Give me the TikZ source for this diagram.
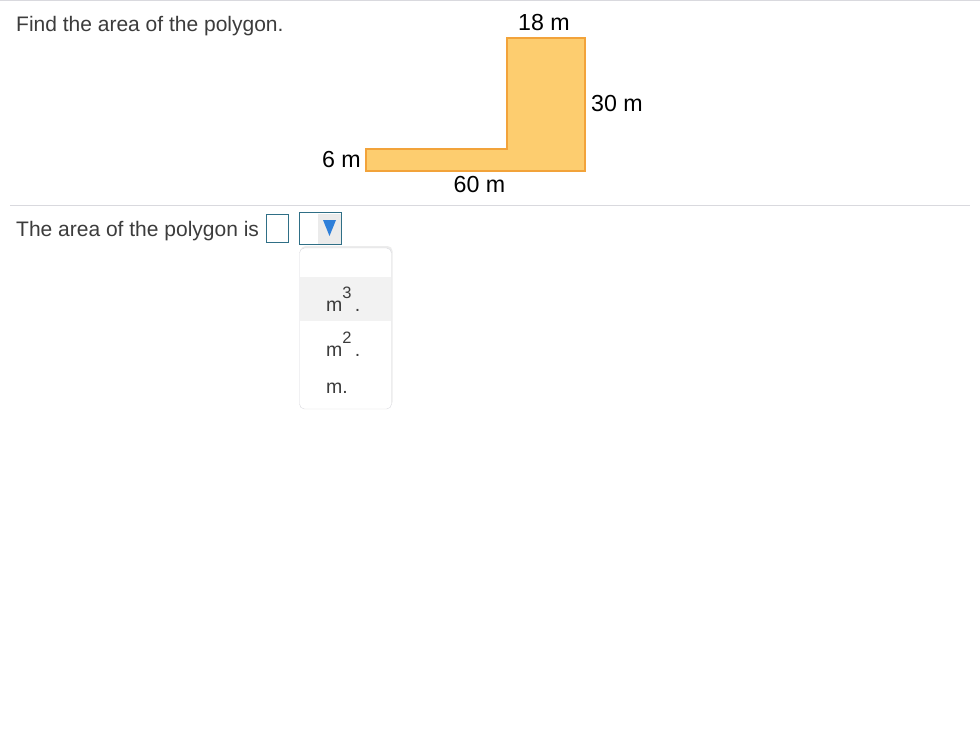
\documentclass[tikz,border=0pt]{standalone}
\usepackage{fontspec}
\setmainfont{Liberation Sans}
\usepackage{tikz}
\usetikzlibrary{calc}
\usetikzlibrary{positioning}
\usetikzlibrary{shadows}
\definecolor{qtext}{HTML}{3C3C3C}
\definecolor{polyfill}{HTML}{FDCD6F}
\definecolor{polyline}{HTML}{F2A33A}
\definecolor{rulegray}{HTML}{D9D9DE}
\definecolor{boxteal}{HTML}{2F6F86}
\definecolor{arrowblue}{HTML}{2E7FD9}
\definecolor{btngray}{HTML}{EBEBEB}
\definecolor{rowgray}{HTML}{F2F2F2}

\begin{document}
\begin{tikzpicture}[x=1pt, y=-1pt,
    question/.style={anchor=base west, inner sep=0pt, text=qtext, font=\fontsize{21}{24}\selectfont},
    sidelabel/.style={inner sep=0pt, text=black, font=\fontsize{23.2}{26}\selectfont},
    unit/.style={anchor=base west, inner sep=0pt, text=qtext, font=\fontsize{19.5}{22}\selectfont}]
        \useasboundingbox[fill=white] (0, 0) rectangle (980, 755);
        \draw[rulegray, line width=1.2] (0, 0.6) -- (980, 0.6);
        \node[question] (find) at (16, 31) {Find the area of the polygon.};
        % the L shaped polygon
        \coordinate (P1) at (507, 38);
        \coordinate (P2) at (585, 38);
        \coordinate (P3) at (585, 171);
        \coordinate (P4) at (366, 171);
        \coordinate (P5) at (366, 149);
        \coordinate (P6) at (507, 149);
        \draw[polyline, fill=polyfill, line width=1.8] (P1) -- (P2) -- (P3) -- (P4) -- (P5) -- (P6) -- cycle;
        \node[sidelabel, anchor=base] (top) at ($(P1)!0.5!(P2) + (-2, -8)$) {18 m};
        \node[sidelabel, anchor=base west] (right) at (591, 111) {30 m};
        \node[sidelabel, anchor=base east] (left) at (361, 167) {6 m};
        \node[sidelabel, anchor=base] (bottom) at ($(P4)!0.5!(P3) + (4, 21)$) {60 m};
        \draw[rulegray, line width=1] (10, 205) -- (970, 205);
        % answer line
        \node[question] (answer) at (16, 236) {The area of the polygon is};
        \draw[boxteal, line width=1] (266.5, 214.5) rectangle (288.5, 242.5);
        \draw[boxteal, line width=1] (299, 212.5) rectangle (341, 244);
        \fill[btngray] (318, 213.5) rectangle (340.5, 243.5);
        \fill[arrowblue] (323, 220) -- (336, 220) -- (329.5, 236) -- cycle;
        % the open list
        \draw[rulegray, fill=white, rounded corners=5, drop shadow={opacity=0.15, shadow xshift=1, shadow yshift=-2}]
            (299.5, 248) rectangle (391.5, 409);
        \fill[rowgray] (300, 277) rectangle (391, 321);
        \node[unit] (cube) at (326, 311) {m\raisebox{0.65em}{\fontsize{16.5}{18}\selectfont 3}\,.};
        \node[unit] (square) at (326, 356) {m\raisebox{0.65em}{\fontsize{16.5}{18}\selectfont 2}\,.};
        \node[unit] (metre) at (326, 393) {m.};
    \end{tikzpicture}
\end{document}
